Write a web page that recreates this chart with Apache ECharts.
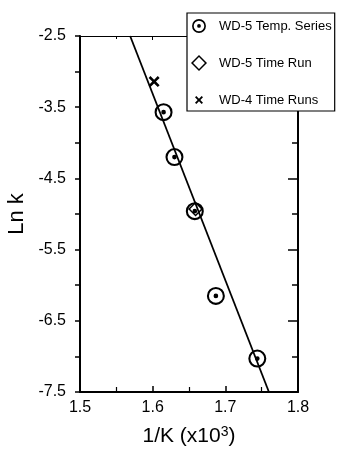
<!DOCTYPE html>
<html>
<head>
<meta charset="utf-8">
<script src="https://cdn.jsdelivr.net/npm/echarts@6/dist/echarts.min.js"></script>
<style>
html,body{margin:0;padding:0;background:#fff;}
#c{width:339px;height:452px;}
</style>
</head>
<body>
<div id="c"></div>
<script>
// Data
const tempX = [1.615, 1.630, 1.658, 1.687, 1.744];
const tempY = [-3.57, -4.20, -4.96, -6.15, -7.03];
const timeRunX = [1.659];
const timeRunY = [-4.93];
const wd4X = [1.602];
const wd4Y = [-3.14];
const fitX = [1.569, 1.760];
const fitY = [-2.5, -7.5];
const xTicks = [1.5, 1.6, 1.7, 1.8];
const yTicks = [-7.5, -6.5, -5.5, -4.5, -3.5, -2.5];
const seriesNames = ['WD-5 Temp. Series', 'WD-5 Time Run', 'WD-4 Time Runs'];

const pair = (xs, ys) => xs.map((x, i) => [x, ys[i]]);

const circleDot = 'path://M0,10 A10,10 0 1,1 20,10 A10,10 0 1,1 0,10 Z M2.3,10 A7.7,7.7 0 1,0 17.7,10 A7.7,7.7 0 1,0 2.3,10 Z M7.4,10 A2.6,2.6 0 1,1 12.6,10 A2.6,2.6 0 1,1 7.4,10 Z';
const hollowDiamond = 'path://M10,0 L20,10 L10,20 L0,10 Z M10,2.8 L2.8,10 L10,17.2 L17.2,10 Z';
const xMark = 'path://M0,2 L2,0 L6,4 L10,0 L12,2 L8,6 L12,10 L10,12 L6,8 L2,12 L0,10 L4,6 Z';
// legend icons: same glyphs padded inside an invisible-size frame
const tiny = (x, y) => 'M' + x + ',' + y + ' L' + (x + 0.01) + ',' + y + ' L' + x + ',' + (y + 0.01) + ' Z';
const legCircle = 'path://' + tiny(-1.5, -1.5) + ' ' + tiny(21.5, 21.5) +
  ' M0,10 A10,10 0 1,1 20,10 A10,10 0 1,1 0,10 Z M2.4,10 A7.6,7.6 0 1,0 17.6,10 A7.6,7.6 0 1,0 2.4,10 Z M7.3,10 A2.7,2.7 0 1,1 12.7,10 A2.7,2.7 0 1,1 7.3,10 Z';
const legDiamond = 'path://M10,0 L20,10 L10,20 L0,10 Z M10,2.6 L2.6,10 L10,17.4 L17.4,10 Z';
const legX = 'path://' + tiny(-6, -6) + ' ' + tiny(18, 18) +
  ' M0,2 L2,0 L6,4 L10,0 L12,2 L8,6 L12,10 L10,12 L6,8 L2,12 L0,10 L4,6 Z';

const chart = echarts.init(document.getElementById('c'), null, {renderer: 'canvas'});
const font = 'Liberation Sans, Arial, sans-serif';
const black = '#000';

chart.setOption({
  backgroundColor: '#fff',
  animation: false,
  grid: {left: 80, right: 41, top: 36, bottom: 60, containLabel: false, outerBoundsMode: 'none'},
  legend: {
    orient: 'vertical',
    left: 187, top: 13,
    padding: [5, 3, 3, 4],
    itemWidth: 20, itemHeight: 16, itemGap: 21,
    backgroundColor: '#fff',
    borderColor: black, borderWidth: 1.2,
    z: 10,
    textStyle: {fontFamily: font, fontSize: 13, color: black, padding: [0, 0, 0, 5]},
    data: [
      {name: seriesNames[0], icon: legCircle},
      {name: seriesNames[1], icon: legDiamond},
      {name: seriesNames[2], icon: legX}
    ]
  },
  xAxis: [{
    type: 'value', position: 'bottom',
    min: xTicks[0], max: xTicks[xTicks.length - 1], interval: 0.1,
    name: '1/K (x10{sup|3})', nameLocation: 'middle', nameGap: 33,
    nameTextStyle: {fontFamily: font, fontSize: 21, color: black,
      rich: {sup: {fontFamily: font, fontSize: 14, color: black, verticalAlign: 'top', padding: [0, 0, 8, 0]}}},
    axisLine: {lineStyle: {color: black, width: 2}},
    axisTick: {inside: true, length: 6, lineStyle: {color: black, width: 1.5}},
    minorTick: {show: true, splitNumber: 2, length: 5, lineStyle: {color: black, width: 1.2}},
    axisLabel: {fontFamily: font, fontSize: 16, color: black, margin: 8, formatter: v => v.toFixed(1)},
    splitLine: {show: false}
  }, {
    type: 'value', position: 'top',
    min: xTicks[0], max: xTicks[xTicks.length - 1], interval: 0.1,
    axisLine: {lineStyle: {color: black, width: 1.2}},
    axisTick: {inside: true, length: 4, lineStyle: {color: black}},
    minorTick: {show: true, splitNumber: 2, length: 3, lineStyle: {color: black}},
    axisLabel: {show: false},
    splitLine: {show: false}
  }],
  yAxis: [{
    type: 'value', position: 'left',
    min: yTicks[0], max: yTicks[yTicks.length - 1], interval: 1,
    name: 'Ln k', nameLocation: 'middle', nameGap: 50, nameRotate: 90,
    nameTextStyle: {fontFamily: font, fontSize: 22, color: black},
    axisLine: {lineStyle: {color: black, width: 2}},
    axisTick: {inside: false, length: 5, lineStyle: {color: black, width: 1.5}},
    minorTick: {show: true, splitNumber: 2, length: 5, lineStyle: {color: black, width: 1.5}},
    axisLabel: {fontFamily: font, fontSize: 16, color: black, margin: 14, formatter: v => v.toFixed(1)},
    splitLine: {show: false}
  }, {
    type: 'value', position: 'right',
    min: yTicks[0], max: yTicks[yTicks.length - 1], interval: 1,
    axisLine: {lineStyle: {color: black, width: 2}},
    axisTick: {inside: true, length: 10, lineStyle: {color: black, width: 1.5}},
    minorTick: {show: true, splitNumber: 2, length: 6, lineStyle: {color: black, width: 1.5}},
    axisLabel: {show: false},
    splitLine: {show: false}
  }],
  series: [{
    name: 'fit', type: 'line', data: pair(fitX, fitY),
    showSymbol: false, symbol: 'none',
    lineStyle: {color: black, width: 1.8}, z: 1, silent: true
  }, {
    name: seriesNames[0], type: 'scatter', data: pair(tempX, tempY),
    symbol: circleDot, symbolSize: 18,
    itemStyle: {color: black, opacity: 1}, z: 3
  }, {
    name: seriesNames[1], type: 'scatter', data: pair(timeRunX, timeRunY),
    symbol: hollowDiamond, symbolSize: 15,
    itemStyle: {color: black, opacity: 1}, z: 4
  }, {
    name: seriesNames[2], type: 'scatter', data: pair(wd4X, wd4Y),
    symbol: xMark, symbolSize: 11,
    itemStyle: {color: black, opacity: 1}, z: 4
  }]
});
</script>
</body>
</html>
